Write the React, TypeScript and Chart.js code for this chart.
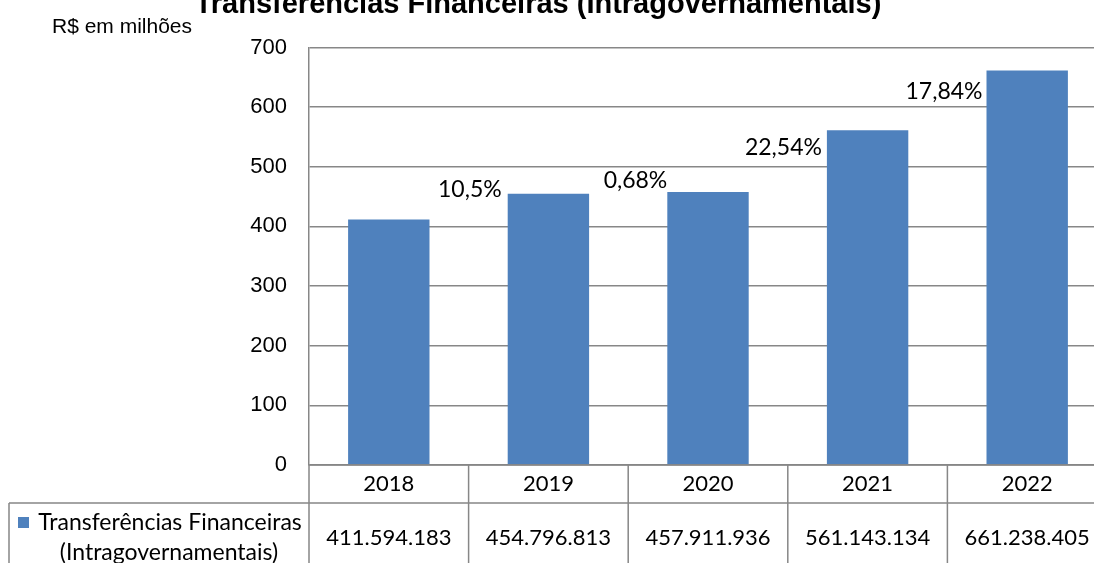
import React, { useEffect, useRef } from "react";
import { Chart, registerables } from "chart.js";

Chart.register(...registerables);

// ---- data ----
const categories = ["2018", "2019", "2020", "2021", "2022"];
const transfersReais = [411594183, 454796813, 457911936, 561143134, 661238405];
const growthLabels = ["", "10,5%", "0,68%", "22,54%", "17,84%"];
const seriesNameLines = ["Transferências Financeiras", "(Intragovernamentais)"];
const chartTitle = "Transferências Financeiras (Intragovernamentais)";
const unitLabel = "R$ em milhões";
const yMin = 0;
const yMax = 700;
const yStep = 100;

// ---- styles ----
const BAR_COLOR = "#4F81BD";
const LINE_COLOR = "#878787";
const LABEL_FONT = "Lato";
const AXIS_FONT = "'Liberation Sans'";
// per-label placement tweaks (pixels, relative to the bar's top-left corner)
const growthLabelDx = [0, -6, 0, -5, -4];
const growthLabelDy = [0, -4, -11, 17, 21];

const fmt = (n: number) => n.toString().replace(/\B(?=(\d{3})+(?!\d))/g, ".");
const barValues = transfersReais.map((v) => v / 1e6);

const overlayPlugin = {
  id: "overlay",
  afterDraw(chart: any) {
    const ctx = chart.ctx as CanvasRenderingContext2D;
    const area = chart.chartArea;
    const W = chart.width;
    const H = chart.height;
    ctx.save();

    // title
    ctx.fillStyle = "#000";
    ctx.font = `bold 29px ${AXIS_FONT}`;
    ctx.textAlign = "center";
    ctx.textBaseline = "alphabetic";
    ctx.fillText(chartTitle, 538, 13);

    // unit label
    ctx.font = `21px ${AXIS_FONT}`;
    ctx.textAlign = "left";
    ctx.fillText(unitLabel, 52, 33);

    // growth labels
    const meta = chart.getDatasetMeta(0);
    ctx.font = `23px ${LABEL_FONT}`;
    ctx.textAlign = "right";
    ctx.textBaseline = "middle";
    meta.data.forEach((bar: any, i: number) => {
      if (!growthLabels[i]) return;
      const left = bar.x - bar.width / 2;
      ctx.fillText(growthLabels[i], left + growthLabelDx[i], bar.y + growthLabelDy[i]);
    });

    // data table
    const n = categories.length;
    const catW = (area.right - area.left) / n;
    const top = area.bottom;
    const row1 = top + 38;
    const row2 = H + 10;
    const headerLeft = 9;

    ctx.strokeStyle = LINE_COLOR;
    ctx.lineWidth = 1.5;
    ctx.beginPath();
    ctx.moveTo(area.left, top);
    ctx.lineTo(W, top);
    ctx.moveTo(headerLeft, row1);
    ctx.lineTo(W, row1);
    for (let i = 0; i <= n; i++) {
      const x = area.left + i * catW;
      ctx.moveTo(x, top);
      ctx.lineTo(x, row2);
    }
    ctx.moveTo(headerLeft, row1);
    ctx.lineTo(headerLeft, row2);
    ctx.stroke();

    ctx.fillStyle = "#000";
    ctx.font = `22px ${LABEL_FONT}`;
    ctx.textAlign = "center";
    ctx.textBaseline = "middle";
    for (let i = 0; i < n; i++) {
      const cx = area.left + (i + 0.5) * catW;
      ctx.fillText(categories[i], cx, (top + row1) / 2);
      ctx.fillText(fmt(transfersReais[i]), cx, row1 + 35);
    }

    // series header with legend key
    ctx.fillStyle = BAR_COLOR;
    ctx.fillRect(18, 517, 11, 11);
    ctx.fillStyle = "#000";
    ctx.font = `23px ${LABEL_FONT}`;
    ctx.fillText(seriesNameLines[0], 170, row1 + 20);
    ctx.fillText(seriesNameLines[1], 169, row1 + 50);

    ctx.restore();
  },
};

export default function App() {
  const ref = useRef<HTMLCanvasElement | null>(null);

  useEffect(() => {
    if (!ref.current) return;
    const chart = new Chart(ref.current, {
      type: "bar",
      data: {
        labels: categories,
        datasets: [
          {
            label: seriesNameLines.join(" "),
            data: barValues,
            backgroundColor: BAR_COLOR,
            borderWidth: 0,
            barPercentage: 0.51,
            categoryPercentage: 1,
          },
        ],
      },
      options: {
        responsive: false,
        animation: false,
        devicePixelRatio: 1,
        layout: { padding: { top: 47.5, right: 3, bottom: 98, left: 0 } },
        plugins: {
          legend: { display: false },
          tooltip: { enabled: false },
          title: { display: false },
        },
        scales: {
          x: { display: false },
          y: {
            min: yMin,
            max: yMax,
            ticks: {
              stepSize: yStep,
              color: "#000",
              padding: 22,
              font: { family: "Liberation Sans", size: 22 },
            },
            grid: {
              color: LINE_COLOR,
              lineWidth: 1.5,
              drawTicks: false,
            },
            border: { display: true, color: LINE_COLOR, width: 1.5 },
            afterFit: (s: any) => {
              s.width = 309;
            },
          },
        },
      },
      plugins: [overlayPlugin],
    });
    return () => chart.destroy();
  }, []);

  return (
    <div
      style={{
        position: "fixed",
        left: 0,
        top: 0,
        width: 1094,
        height: 563,
        overflow: "hidden",
        background: "#fff",
      }}
    >
      <canvas ref={ref} width={1110} height={563} style={{ display: "block" }} />
    </div>
  );
}
